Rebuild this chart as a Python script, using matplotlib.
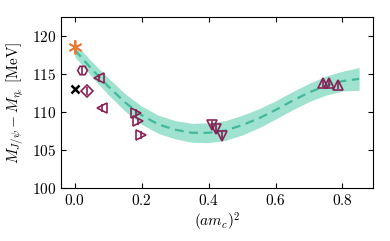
import numpy as np
import matplotlib
matplotlib.use('Agg')
import matplotlib.pyplot as plt

plt.rcParams['font.family'] = 'serif'
plt.rcParams['font.serif'] = ['cmr10', 'DejaVu Serif']
plt.rcParams['mathtext.fontset'] = 'cm'
plt.rcParams['axes.formatter.use_mathtext'] = True
plt.rcParams['font.size'] = 11

# fit band
fit_x = [0.0, 0.05, 0.1, 0.15, 0.2, 0.25, 0.3, 0.35, 0.4, 0.45,
         0.5, 0.55, 0.6, 0.65, 0.7, 0.75, 0.8, 0.85]
fit_y = [118.2, 115.7, 113.4, 111.3, 109.6, 108.4, 107.7, 107.3, 107.3, 107.6,
         108.3, 109.2, 110.3, 111.5, 112.6, 113.5, 114.1, 114.4]
fit_err = [0.9, 1.0, 1.1, 1.15, 1.2, 1.2, 1.2, 1.25, 1.3, 1.3,
           1.3, 1.25, 1.2, 1.2, 1.2, 1.25, 1.3, 1.5]

# lattice points, grouped by ensemble marker
hex_x, hex_y = [0.021], [115.6]
dia_x, dia_y = [0.036], [112.8]
left_x, left_y = [0.071, 0.081], [114.5, 110.6]
right_x, right_y = [0.183, 0.189, 0.199], [109.9, 108.8, 107.0]
down_x, down_y = [0.411, 0.422, 0.441], [108.3, 107.8, 106.9]
up_x, up_y = [0.743, 0.760, 0.788], [113.8, 113.8, 113.6]
pt_err = 0.5

# continuum result and experiment
cont_x, cont_y, cont_err = 0.0, 118.6, 0.9
exp_x, exp_y = 0.0, 113.0

wine = '#882255'

fig = plt.figure(figsize=(3.9, 2.41), dpi=100)
ax = fig.add_axes([0.156, 0.219, 0.8, 0.709])

fx = np.array(fit_x)
fy = np.array(fit_y)
fe = np.array(fit_err)
ax.fill_between(fx, fy - fe, fy + fe, color='#9fe2cf', lw=0)
ax.plot(fx, fy, ls='--', color='#44b89c', lw=1.6, dashes=(4, 2.5))

for xs, ys, m in [(hex_x, hex_y, 'H'), (dia_x, dia_y, 'D'), (left_x, left_y, '<'),
                  (right_x, right_y, '>'), (down_x, down_y, 'v'), (up_x, up_y, '^')]:
    ms = 6 if m == 'D' else 7
    ax.errorbar(xs, ys, yerr=pt_err, fmt=m, mfc='none', mec=wine, ecolor=wine,
                ms=ms, mew=1.2, elinewidth=1.2, capsize=0)

ax.errorbar([cont_x], [cont_y], yerr=cont_err, fmt='none', ecolor='#ee7733', elinewidth=1.2)
ax.plot([cont_x], [cont_y], marker=(6, 2, 0), color='#ee7733', ms=10, mew=1.2, ls='none')
ax.plot([exp_x], [exp_y], marker='x', color='black', ms=6, mew=1.8, ls='none')

ax.set_xlim(-0.042, 0.891)
ax.set_ylim(100, 122.5)
ax.set_xticks([0.0, 0.2, 0.4, 0.6, 0.8])
ax.set_yticks([100, 105, 110, 115, 120])
ax.tick_params(direction='in', top=True, right=True, length=3.5, width=0.8)
for s in ax.spines.values():
    s.set_linewidth(0.8)

ax.set_xlabel(r'$(am_c)^2$', labelpad=2)
ax.set_ylabel(r'$M_{J/\psi}-M_{\eta_c}$ [MeV]')

fig.savefig('out.png', dpi=100)
